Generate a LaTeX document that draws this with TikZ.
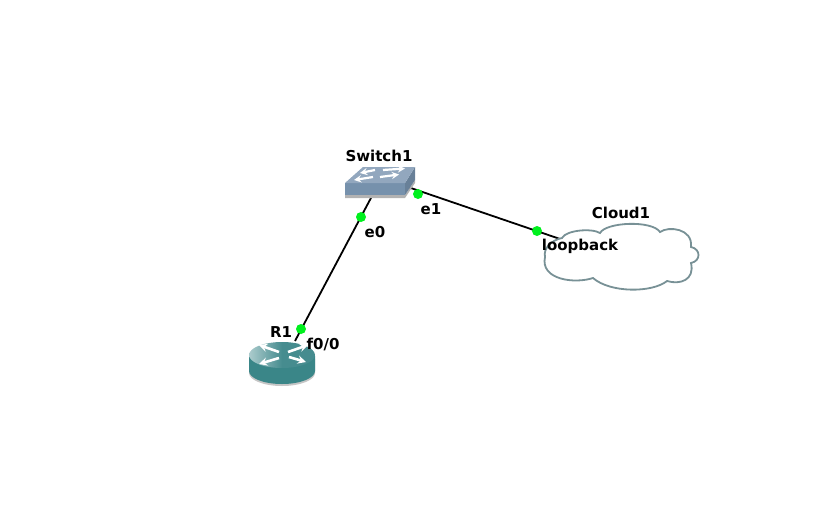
\documentclass[tikz,border=0pt]{standalone}
\usepackage{fontspec}
\setmainfont{DejaVu Sans}
\definecolor{linkgreen}{RGB}{0,240,30}
\definecolor{cloudline}{RGB}{120,145,150}
\definecolor{routerdark}{RGB}{58,134,136}
\definecolor{routertop}{RGB}{70,140,143}
\definecolor{switchtop}{RGB}{146,167,190}
\definecolor{switchfront}{RGB}{118,145,172}
\definecolor{switchside}{RGB}{104,128,152}
\tikzset{
  lbl/.style  = {font=\bfseries\fontsize{15}{15}\selectfont, inner sep=0pt, text=black},
  port/.style = {circle, fill=linkgreen, inner sep=0pt, minimum size=10pt},
  link/.style = {draw=black, line width=1.8pt},
  arrowsw/.style = {->, white, line width=2.2pt},
  arrowrt/.style = {->, white, line width=2.6pt}
}
\begin{document}
\begin{tikzpicture}[
    x = 1pt,
    y = -1pt,
    >=stealth
  ]
\useasboundingbox (0,0) rectangle (829,506);
% anchors of the links
\coordinate (swA) at (372,196);
\coordinate (swB) at (405,186);
\coordinate (rtA) at (295,341);
\coordinate (clA) at (563,240);
% links
\draw[link] (swA) -- (rtA);
\draw[link] (swB) -- (clA);
% switch
\fill[gray!60] (345,195) -- (405,195) -- (415,180) -- (415,183) -- (405,198) -- (345,198) -- cycle;
\fill[switchfront] (345,183) -- (405,183) -- (405,195) -- (345,195) -- cycle;
\fill[switchside] (405,183) -- (415,167) -- (415,180) -- (405,195) -- cycle;
\fill[switchtop] (345,183) -- (363,167) -- (415,167) -- (405,183) -- cycle;
\draw[arrowsw] (375,170) -- (360,173);
\draw[arrowsw] (383,170) -- (405,168.5);
\draw[arrowsw] (373,177) -- (354,180);
\draw[arrowsw] (380,177) -- (399,174.5);
% router
\fill[gray!45] (249,359) -- (249,373) arc[start angle=180, end angle=0, x radius=33, y radius=13] -- (315,359) -- cycle;
\fill[routerdark] (249,356) -- (249,371) arc[start angle=180, end angle=0, x radius=33, y radius=13] -- (315,356) -- cycle;
\shade[left color=routertop!45!white, right color=routertop, middle color=routertop] (282,355) ellipse[x radius=33, y radius=13];
\draw[arrowrt] (279,352) -- (259,345);
\draw[arrowrt] (288,352) -- (308,345);
\draw[arrowrt] (279,358) -- (259,364);
\draw[arrowrt] (289,357) -- (306,362);
% cloud
\draw[cloudline, fill=white, line width=1.8pt] (562,238)
  .. controls (566,230) and (592,228) .. (600,233)
  .. controls (606,222) and (652,220) .. (660,232)
  .. controls (668,226) and (693,228) .. (691,247)
  .. controls (701,249) and (701,261) .. (691,263)
  .. controls (695,280) and (680,285) .. (667,281)
  .. controls (652,293) and (610,293) .. (593,278)
  .. controls (575,284) and (540,280) .. (545,257)
  .. controls (543,248) and (552,240) .. (562,238) -- cycle;
% port dots
\node[port] (p0) at (361,217) {};
\node[port] (p1) at (418,194) {};
\node[port] (p2) at (301,329) {};
\node[port] (p3) at (537,231) {};
% labels
\node[lbl] (sw1) at (379,156) {Switch1};
\node[lbl] (e0)  at (375,232) {e0};
\node[lbl] (e1)  at (431,209) {e1};
\node[lbl] (r1)  at (281,332) {R1};
\node[lbl] (f00) at (323,344) {f0/0};
\node[lbl] (cl1) at (621,213) {Cloud1};
\node[lbl] (lo)  at (580,246) {loopback};
\end{tikzpicture}
\end{document}
